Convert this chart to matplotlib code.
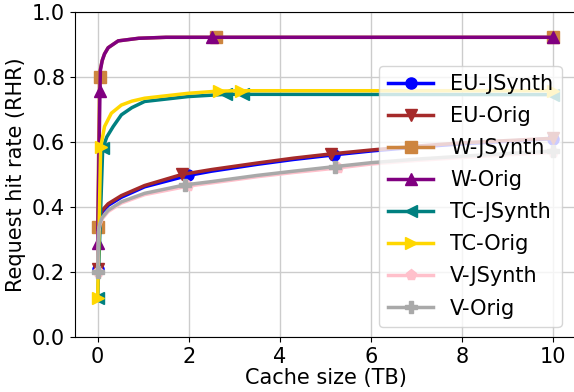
import matplotlib
matplotlib.use("Agg")
import matplotlib.pyplot as plt

# Request hit rate vs cache size for each trace (synthetic vs original)
eu_js_x = [0, 0.02, 0.05, 0.1, 0.23, 0.52, 1.03, 1.99, 2.5, 3.5, 4.3, 5.18, 6, 7, 8, 9, 10]
eu_js_y = [0.21, 0.34, 0.365, 0.385, 0.405, 0.43, 0.462, 0.497, 0.51, 0.531, 0.546, 0.56, 0.572, 0.584, 0.594, 0.602, 0.61]
eu_or_x = [0, 0.02, 0.05, 0.1, 0.23, 0.52, 1.03, 1.85, 2.5, 3.5, 4.3, 5.12, 6, 7, 8, 9, 10]
eu_or_y = [0.21, 0.35, 0.372, 0.39, 0.41, 0.435, 0.466, 0.50, 0.515, 0.535, 0.55, 0.563, 0.575, 0.587, 0.597, 0.604, 0.611]

w_js_x = [0, 0.04, 0.06, 0.1, 0.15, 0.23, 0.45, 0.9, 1.5, 2.6, 10]
w_js_y = [0.34, 0.80, 0.825, 0.85, 0.87, 0.889, 0.91, 0.918, 0.921, 0.921, 0.921]
w_or_x = [0, 0.05, 0.06, 0.1, 0.15, 0.23, 0.45, 0.9, 1.5, 2.5, 10]
w_or_y = [0.29, 0.755, 0.82, 0.85, 0.87, 0.889, 0.91, 0.918, 0.921, 0.921, 0.921]

tc_js_x = [0, 0.11, 0.2, 0.34, 0.52, 0.75, 1.03, 1.98, 2.82, 3.2, 10]
tc_js_y = [0.12, 0.58, 0.615, 0.647, 0.683, 0.705, 0.724, 0.739, 0.746, 0.746, 0.745]
tc_or_x = [0, 0.065, 0.15, 0.3, 0.52, 0.75, 1.03, 1.98, 2.66, 3.14, 10]
tc_or_y = [0.12, 0.583, 0.647, 0.688, 0.713, 0.725, 0.734, 0.749, 0.756, 0.757, 0.757]

v_js_x = [0, 0.02, 0.05, 0.1, 0.23, 0.52, 1.03, 1.98, 2.5, 3.5, 4.3, 5.28, 6, 7, 8, 9, 10]
v_js_y = [0.20, 0.325, 0.346, 0.364, 0.386, 0.412, 0.438, 0.464, 0.474, 0.493, 0.506, 0.52, 0.532, 0.543, 0.552, 0.56, 0.568]
v_or_x = [0, 0.02, 0.05, 0.1, 0.23, 0.52, 1.03, 1.92, 2.5, 3.5, 4.3, 5.2, 6, 7, 8, 9, 10]
v_or_y = [0.20, 0.33, 0.35, 0.368, 0.39, 0.416, 0.442, 0.468, 0.478, 0.497, 0.51, 0.524, 0.536, 0.547, 0.556, 0.564, 0.572]

series = [
    ("EU-JSynth", eu_js_x, eu_js_y, "blue", "o", [0, 7, 11, 16]),
    ("EU-Orig", eu_or_x, eu_or_y, "brown", "v", [0, 7, 11, 16]),
    ("W-JSynth", w_js_x, w_js_y, "peru", "s", [0, 1, 9, 10]),
    ("W-Orig", w_or_x, w_or_y, "purple", "^", [0, 1, 9, 10]),
    ("TC-JSynth", tc_js_x, tc_js_y, "teal", "<", [0, 1, 8, 9, 10]),
    ("TC-Orig", tc_or_x, tc_or_y, "gold", ">", [0, 1, 8, 9, 10]),
    ("V-JSynth", v_js_x, v_js_y, "pink", "p", [0, 7, 11, 16]),
    ("V-Orig", v_or_x, v_or_y, "darkgray", "P", [0, 7, 11, 16]),
]

fig = plt.figure(figsize=(5.74, 3.92), dpi=100)
ax = fig.add_axes([0.1305, 0.1395, 0.873, 0.831])

for label, xs, ys, color, marker, marks in series:
    ax.plot(xs, ys, color=color, marker=marker, markevery=marks,
            linewidth=2.5, markersize=8, label=label)

ax.set_xlim(-0.5, 10.5)
ax.set_ylim(0, 1.0)
ax.set_xticks([0, 2, 4, 6, 8, 10])
ax.set_yticks([0.0, 0.2, 0.4, 0.6, 0.8, 1.0])
ax.grid(True, color="0.8", linewidth=1)
ax.set_axisbelow(True)
ax.tick_params(labelsize=15)
ax.set_xlabel("Cache size (TB)", fontsize=15, labelpad=1)
ax.set_ylabel("Request hit rate (RHR)", fontsize=15)
ax.legend(loc="lower right", fontsize=15, labelspacing=0.58, handlelength=2.2,
          bbox_to_anchor=(0.992, 0.0))

fig.savefig("out.png", dpi=100)
plt.close(fig)
